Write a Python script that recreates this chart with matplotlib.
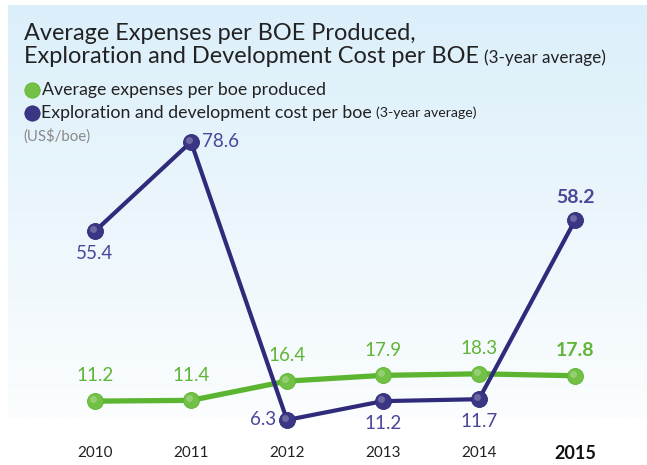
import matplotlib.pyplot as plt
import matplotlib.transforms as mtransforms
import numpy as np

plt.rcParams['font.family'] = ['Lato', 'DejaVu Sans']

years = [2010, 2011, 2012, 2013, 2014, 2015]
expenses = [11.2, 11.4, 16.4, 17.9, 18.3, 17.8]
ed_cost = [55.4, 78.6, 6.3, 11.2, 11.7, 58.2]

title1 = "Average Expenses per BOE Produced,"
title2 = "Exploration and Development Cost per BOE"
legend1 = "Average expenses per boe produced"
legend2 = "Exploration and development cost per boe"

green_line = '#5cb531'
green_dot = '#72c045'
green_text = '#5fb536'
blue_line = '#2f2b7a'
blue_dot = '#3b3683'
blue_text = '#4a469a'

W, H = 647, 465
fig = plt.figure(figsize=(W / 100, H / 100), dpi=100)

# background panel with vertical gradient
bg = fig.add_axes([0, 0, 1, 1])
bg.set_xlim(0, W)
bg.set_ylim(H, 0)
bg.axis('off')
top = np.array([0xdb, 0xef, 0xfa]) / 255
bot = np.array([0xfb, 0xfd, 0xfe]) / 255
t = np.linspace(0, 1, 200)[:, None]
grad = (top[None, :] * (1 - t) + bot[None, :] * t)[:, None, :]
bg.imshow(grad, extent=[8, W, 419, 6], aspect='auto', zorder=0)

ax = fig.add_axes([0, 0, 1, 1])
ax.patch.set_alpha(0)
ax.axis('off')
ax.set_xlim(2010 - 95 / 96, 2010 + (W - 95) / 96)
ax.set_ylim(-5.41, 115.5)


def sphere_line(x, y, lc, dc, lw, z):
    ax.plot(x, y, color=lc, lw=lw, zorder=z, solid_capstyle='round')
    ax.plot(x, y, 'o', ms=11.5, color=dc, mec=lc, mew=0.6, zorder=z + 1, lw=0)
    hl = ax.transData + mtransforms.ScaledTranslation(-1.5 / 72, 1.5 / 72, fig.dpi_scale_trans)
    ax.plot(x, y, 'o', ms=5, color='white', alpha=0.25, mew=0, zorder=z + 2,
            transform=hl)


sphere_line(years, expenses, green_line, green_dot, 3.8, 3)
sphere_line(years, ed_cost, blue_line, blue_dot, 3.0, 5)

# green labels above points
for i, (x, v) in enumerate(zip(years, expenses)):
    bold = i == len(years) - 1
    ax.annotate(f"{v:.1f}", (x, v), xytext=(0, 12), textcoords='offset points',
                ha='center', va='bottom', color=green_text,
                fontsize=14 if bold else 13.5,
                fontweight='bold' if bold else 'normal')

# blue labels
blue_pos = [((0, -10), 'center', 'top'),
            ((8, 0), 'left', 'center'),
            ((-8, 0), 'right', 'center'),
            ((0, -10), 'center', 'top'),
            ((0, -10), 'center', 'top'),
            ((0, 10), 'center', 'bottom')]
for i, (x, v) in enumerate(zip(years, ed_cost)):
    off, ha, va = blue_pos[i]
    bold = i == len(years) - 1
    ax.annotate(f"{v:.1f}", (x, v), xytext=off, textcoords='offset points',
                ha=ha, va=va, color=blue_text,
                fontsize=14 if bold else 13.5,
                fontweight='bold' if bold else 'normal')

# year labels
trans = mtransforms.blended_transform_factory(ax.transData, ax.transAxes)
for i, yr in enumerate(years):
    bold = i == len(years) - 1
    ax.text(yr, 1 - 453 / H, str(yr), transform=trans, ha='center', va='center',
            color='#222222' if not bold else '#111111',
            fontsize=13 if bold else 11, fontweight='bold' if bold else 'normal')

# titles and legend (pixel placement)
def fx(px):
    return px / W


def fy(py):
    return 1 - py / H


fig.text(fx(24), fy(40), title1, fontsize=16.9, color='#222222', va='baseline')
t2 = fig.text(fx(24), fy(63), title2, fontsize=16.9, color='#222222', va='baseline')
fig.canvas.draw()
bb = t2.get_window_extent()
fig.text(bb.x1 / W + 0.008, fy(63), "(3-year average)", fontsize=12.3,
         color='#222222', va='baseline')

lx = fig.add_axes([0, 0, 1, 1])
lx.patch.set_alpha(0)
lx.axis('off')
lx.set_xlim(0, W)
lx.set_ylim(H, 0)
lx.plot([32], [90], 'o', ms=11, color=green_dot, mec=green_line, mew=0.6)
lx.plot([32], [113], 'o', ms=11, color=blue_dot, mec=blue_line, mew=0.6)

fig.text(fx(42), fy(90), legend1, fontsize=12.8, color='#222222', va='center')
l2 = fig.text(fx(41), fy(113), legend2, fontsize=12.8, color='#222222', va='center')
fig.canvas.draw()
bb = l2.get_window_extent()
fig.text(bb.x1 / W + 0.007, fy(113), "(3-year average)", fontsize=10.2,
         color='#222222', va='center')
fig.text(fx(23), fy(136), "(US$/boe)", fontsize=10.8, color='#888888', va='center')

fig.savefig('out.png', dpi=100)
